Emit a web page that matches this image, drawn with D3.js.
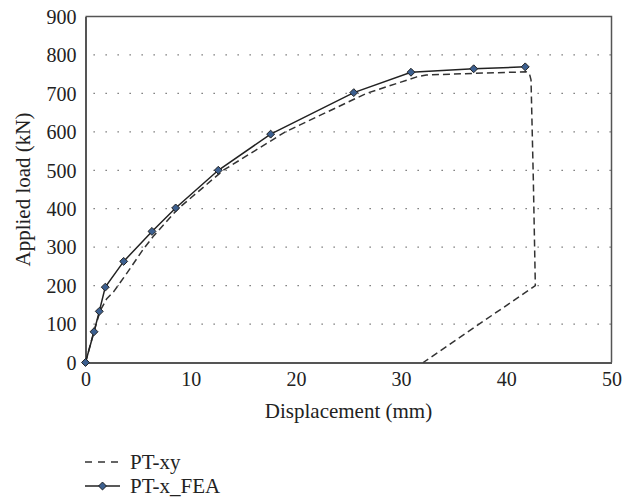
<!DOCTYPE html>
<html>
<head>
<meta charset="utf-8">
<script src="https://cdn.jsdelivr.net/npm/d3@7"></script>
<style>
  body { margin: 0; background: #fff; }
</style>
</head>
<body>
<svg id="chart" width="637" height="502"></svg>
<script>
// PT-xy test curve (dashed)
const xyDisp = [0, 0.8, 1.4, 2.0, 2.7, 4.0, 5.5, 6.5, 8.8, 13.1, 19.0, 26.7, 31.5, 32.4, 36.8, 41.9, 42.2, 42.35, 42.57, 42.76, 32.1];
const xyLoad = [0, 80, 135, 165, 185, 235, 295, 330, 400, 500, 600, 700, 743, 748, 752, 756, 751, 735, 475, 200, 0];

// PT-x_FEA (solid with markers)
const feaDisp = [0, 0.81, 1.31, 1.88, 3.63, 6.32, 8.57, 12.62, 17.6, 25.5, 30.94, 36.9, 41.8];
const feaLoad = [0, 80, 133, 196, 263, 341, 402, 500, 594, 702, 755, 764, 769];

const xTicks = [0, 10, 20, 30, 40, 50];
const yTicks = [0, 100, 200, 300, 400, 500, 600, 700, 800, 900];
const seriesNames = ["PT-xy", "PT-x_FEA"];

const FONT = "'Liberation Serif', 'DejaVu Serif', 'Times New Roman', serif";
const FS = 20;

const svg = d3.select("#chart").style("font-family", FONT);
const mLeft = 85.5, mRight = 611.5, mTop = 16.5, mBottom = 362.5;

const x = d3.scaleLinear().domain([0, 50]).range([mLeft, mRight]);
const y = d3.scaleLinear().domain([0, 900]).range([mBottom, mTop]);

// dotted grid
svg.append("g")
  .selectAll("line")
  .data(yTicks.filter(v => v > 0 && v < 900))
  .join("line")
  .attr("x1", mLeft + 8).attr("x2", mRight)
  .attr("y1", d => y(d)).attr("y2", d => y(d))
  .attr("stroke", "#666")
  .attr("stroke-width", 1.3)
  .attr("stroke-dasharray", "1.3,10.7");

// frame: top and right
svg.append("path")
  .attr("d", `M${mLeft},${mTop}H${mRight}V${mBottom}`)
  .attr("fill", "none")
  .attr("stroke", "#555")
  .attr("stroke-width", 1.5);

// axes
const xAxis = svg.append("g")
  .attr("transform", `translate(0,${mBottom})`)
  .call(d3.axisBottom(x).tickValues(xTicks).tickSize(0).tickPadding(9));
const yAxis = svg.append("g")
  .attr("transform", `translate(${mLeft},0)`)
  .call(d3.axisLeft(y).tickValues(yTicks).tickSize(0).tickPadding(9));

[xAxis, yAxis].forEach(ax => {
  ax.attr("font-family", FONT).attr("font-size", FS);
  ax.select(".domain").attr("stroke", "#555").attr("stroke-width", 2);
  ax.selectAll("text").attr("fill", "#222");
});
yAxis.selectAll("text").attr("dy", "0.34em");

// axis titles
svg.append("text")
  .attr("x", (mLeft + mRight) / 2)
  .attr("y", 418)
  .attr("text-anchor", "middle")
  .attr("font-size", FS + 1)
  .attr("fill", "#222")
  .text("Displacement (mm)");

svg.append("text")
  .attr("transform", `translate(30,${(mTop + mBottom) / 2}) rotate(-90)`)
  .attr("text-anchor", "middle")
  .attr("font-size", FS + 1)
  .attr("fill", "#222")
  .text("Applied load (kN)");

// series
const xyPts = xyDisp.map((d, i) => [d, xyLoad[i]]);
const feaPts = feaDisp.map((d, i) => [d, feaLoad[i]]);
const line = d3.line().x(d => x(d[0])).y(d => y(d[1]));

svg.append("path")
  .attr("d", line(xyPts))
  .attr("fill", "none")
  .attr("stroke", "#333")
  .attr("stroke-width", 1.5)
  .attr("stroke-linejoin", "round")
  .attr("stroke-dasharray", "7,4");

svg.append("path")
  .attr("d", line(feaPts))
  .attr("fill", "none")
  .attr("stroke", "#222")
  .attr("stroke-width", 1.5);

const diamond = d3.symbol().type(d3.symbolDiamond2).size(40);
svg.append("g")
  .selectAll("path")
  .data(feaPts)
  .join("path")
  .attr("transform", d => `translate(${x(d[0])},${y(d[1])})`)
  .attr("d", diamond)
  .attr("fill", "#3c5f8f")
  .attr("stroke", "#222")
  .attr("stroke-width", 1);

// legend
const lg = svg.append("g");
const legY = [462, 486];
lg.append("line")
  .attr("x1", 85).attr("x2", 120)
  .attr("y1", legY[0]).attr("y2", legY[0])
  .attr("stroke", "#333").attr("stroke-width", 1.5)
  .attr("stroke-dasharray", "7,6");
lg.append("line")
  .attr("x1", 85).attr("x2", 120)
  .attr("y1", legY[1]).attr("y2", legY[1])
  .attr("stroke", "#222").attr("stroke-width", 1.5);
lg.append("path")
  .attr("transform", `translate(102.5,${legY[1]})`)
  .attr("d", diamond)
  .attr("fill", "#3c5f8f").attr("stroke", "#222").attr("stroke-width", 1);
lg.selectAll("text")
  .data(seriesNames)
  .join("text")
  .attr("x", 130)
  .attr("y", (d, i) => legY[i])
  .attr("dy", "0.34em")
  .attr("font-size", FS + 1)
  .attr("fill", "#222")
  .text(d => d);
</script>
</body>
</html>
